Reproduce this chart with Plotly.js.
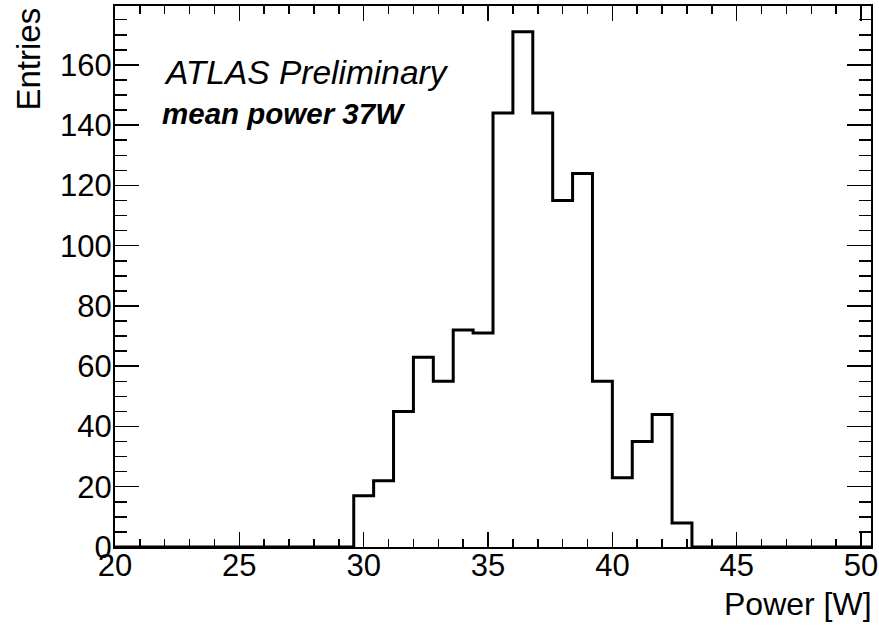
<!DOCTYPE html>
<html>
<head>
<meta charset="utf-8">
<script src="https://cdn.plot.ly/plotly-3.0.1.min.js"></script>
<style>
  html, body { margin: 0; padding: 0; background: #ffffff; }
  #chart { width: 879px; height: 627px; }
</style>
</head>
<body>
<div id="chart"></div>
<script>
// Histogram definition: 38 bins of 0.8 W from 20 W to 50.4 W
const binLow = 20;
const binWidth = 0.8;
const counts = [
  0, 0, 0, 0, 0, 0, 0, 0, 0, 0, 0, 0,
  17, 22, 45, 63, 55, 72, 71, 144, 171, 144, 115, 124, 55, 23, 35, 44, 8,
  0, 0, 0, 0, 0, 0, 0, 0, 0
];
const xTickVals = [20, 25, 30, 35, 40, 45, 50];
const yTickVals = [0, 20, 40, 60, 80, 100, 120, 140, 160];
const xTitle = 'Power [W]';
const yTitle = 'Entries';
const label1 = 'ATLAS Preliminary';
const label2 = 'mean power 37W';

// step outline built from bin edges (hv steps)
const edges = counts.map((c, i) => binLow + i * binWidth);
const xs = edges.concat([binLow + counts.length * binWidth]);
const ys = counts.concat([counts[counts.length - 1]]);
const xMax = binLow + counts.length * binWidth;
const yMax = Math.max(...counts) * 1.05;

const FONT = 'Liberation Sans, Arial, Helvetica, sans-serif';

const trace = {
  type: 'scatter',
  mode: 'lines',
  x: xs,
  y: ys,
  line: { shape: 'hv', color: '#000000', width: 3 },
  cliponaxis: false,
  hoverinfo: 'x+y'
};

const layout = {
  width: 879,
  height: 627,
  margin: { l: 115, r: 8, t: 6, b: 80, pad: 0 },
  paper_bgcolor: '#ffffff',
  plot_bgcolor: '#ffffff',
  showlegend: false,
  font: { family: FONT, size: 31, color: '#000000' },
  xaxis: {
    range: [binLow, xMax],
    tickvals: xTickVals,
    ticktext: xTickVals.map(String),
    ticks: 'inside',
    ticklen: 15,
    tickwidth: 1.5,
    tickcolor: '#000000',
    ticklabelstandoff: -10,
    minor: { dtick: 1, tick0: 20, ticks: 'inside', ticklen: 8, tickwidth: 1.5, tickcolor: '#000000', showgrid: false },
    showline: true,
    linewidth: 2,
    linecolor: '#000000',
    mirror: 'allticks',
    showgrid: false,
    zeroline: false,
    automargin: false,
    tickfont: { family: FONT, size: 31, color: '#000000' }
  },
  yaxis: {
    range: [0, yMax],
    tickvals: yTickVals,
    ticktext: yTickVals.map(String),
    ticks: 'inside',
    ticklen: 24,
    tickwidth: 1.5,
    tickcolor: '#000000',
    ticklabelstandoff: -5,
    minor: { dtick: 5, tick0: 0, ticks: 'inside', ticklen: 12, tickwidth: 1.5, tickcolor: '#000000', showgrid: false },
    showline: true,
    linewidth: 2,
    linecolor: '#000000',
    mirror: 'allticks',
    showgrid: false,
    zeroline: false,
    automargin: false,
    tickfont: { family: FONT, size: 31, color: '#000000' }
  },
  annotations: [
    {
      text: yTitle, textangle: -90,
      xref: 'paper', yref: 'paper',
      x: -0.115, y: 1.0, xanchor: 'center', yanchor: 'top',
      showarrow: false,
      font: { family: FONT, size: 33, color: '#000000' }
    },
    {
      text: xTitle,
      xref: 'paper', yref: 'paper',
      x: 1.004, y: -0.105, xanchor: 'right', yanchor: 'middle',
      showarrow: false,
      font: { family: FONT, size: 32, color: '#000000' }
    },
    {
      text: '<i>' + label1 + '</i>',
      xref: 'paper', yref: 'paper',
      x: 0.062, y: 0.878, xanchor: 'left', yanchor: 'middle',
      showarrow: false,
      font: { family: FONT, size: 33.5, color: '#000000' }
    },
    {
      text: '<b><i>' + label2 + '</i></b>',
      xref: 'paper', yref: 'paper',
      x: 0.06, y: 0.802, xanchor: 'left', yanchor: 'middle',
      showarrow: false,
      font: { family: FONT, size: 29.5, color: '#000000' }
    }
  ]
};

Plotly.newPlot('chart', [trace], layout, { displayModeBar: false, staticPlot: true });
</script>
</body>
</html>
